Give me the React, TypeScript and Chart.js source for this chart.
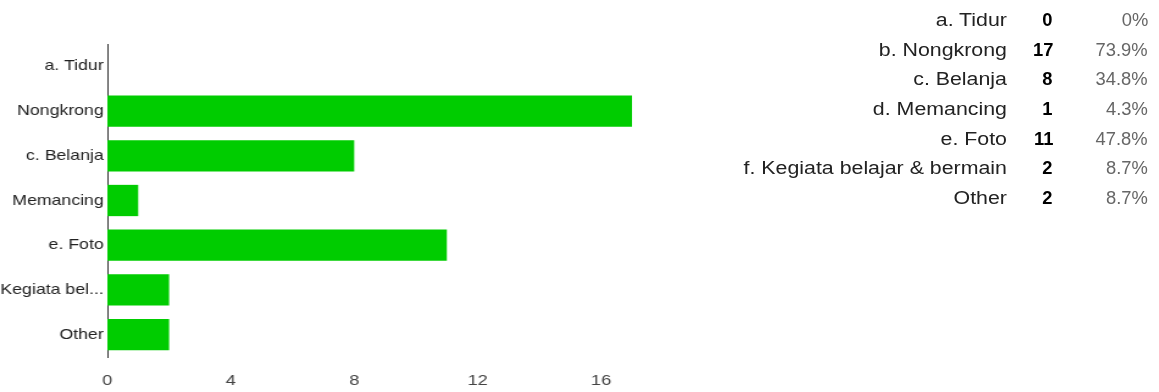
import React, { useEffect, useRef } from 'react';
import { Chart, registerables } from 'chart.js';

Chart.register(...registerables);

// ---- data ----
const categories = [
  'a. Tidur',
  'b. Nongkrong',
  'c. Belanja',
  'd. Memancing',
  'e. Foto',
  'f. Kegiata belajar & bermain',
  'Other',
];
const axisLabels = [
  'a. Tidur',
  'Nongkrong',
  'c. Belanja',
  'Memancing',
  'e. Foto',
  'f. Kegiata bel...',
  'Other',
];
const counts = [0, 17, 8, 1, 11, 2, 2];
const percents = ['0%', '73.9%', '34.8%', '4.3%', '47.8%', '8.7%', '8.7%'];
const xMin = 0;
const xMax = 17;
const xStep = 4;

// ---- layout (unscaled coordinates; whole picture is stretched horizontally) ----
const S = 1.22;
const FONT = '"Liberation Sans", Arial, sans-serif';

export default function App() {
  const ref = useRef<HTMLCanvasElement | null>(null);

  useEffect(() => {
    if (!ref.current) return;
    const chart = new Chart(ref.current, {
      type: 'bar',
      data: {
        labels: categories,
        datasets: [
          {
            data: counts,
            backgroundColor: '#00cc00',
            borderWidth: 0,
            categoryPercentage: 0.7,
            barPercentage: 1,
          },
        ],
      },
      options: {
        indexAxis: 'y',
        animation: false,
        responsive: false,
        maintainAspectRatio: false,
        layout: { padding: { top: 44, right: 42, bottom: 0, left: 0 } },
        plugins: { legend: { display: false }, tooltip: { enabled: false } },
        scales: {
          x: {
            min: xMin,
            max: xMax,
            grid: { display: false, drawTicks: false },
            border: { display: false },
            ticks: {
              stepSize: xStep,
              includeBounds: false,
              font: { family: FONT, size: 15 },
              color: '#444',
              padding: 15,
              maxRotation: 0,
            },
            afterFit: (s: any) => {
              s.height = 35;
            },
          },
          y: {
            grid: { display: false, drawTicks: false },
            border: { display: true, color: '#333', width: 1 },
            ticks: {
              font: { family: FONT, size: 14.5 },
              color: '#222',
              padding: 3,
              autoSkip: false,
              callback: (_v: any, i: number) => axisLabels[i],
            },
            afterFit: (s: any) => {
              s.width = 88;
            },
          },
        },
      },
    });
    return () => chart.destroy();
  }, []);

  const rowTop = 5.8;
  const rowH = 29.7;

  return (
    <div
      style={{
        position: 'absolute',
        left: 0,
        top: 0,
        width: 1159 / S,
        height: 392,
        transform: `scaleX(${S})`,
        transformOrigin: '0 0',
        fontFamily: FONT,
        background: '#fff',
      }}
    >
      <canvas
        ref={ref}
        width={560}
        height={392}
        style={{ position: 'absolute', left: 0, top: 0 }}
      />
      {categories.map((c, i) => (
        <div
          key={c}
          style={{
            position: 'absolute',
            left: 0,
            top: rowTop + i * rowH,
            height: rowH,
            width: 1159 / S,
            lineHeight: `${rowH}px`,
            fontSize: 17.5,
            whiteSpace: 'nowrap',
          }}
        >
          <span
            style={{
              position: 'absolute',
              left: 500,
              width: 325.4,
              textAlign: 'right',
              color: '#222',
            }}
          >
            {c}
          </span>
          <span
            style={{
              position: 'absolute',
              left: 820,
              width: 43,
              textAlign: 'right',
              color: '#000',
              fontWeight: 'bold',
            }}
          >
            <span
              style={{
                display: 'inline-block',
                transform: 'scaleX(0.86)',
                transformOrigin: '100% 50%',
              }}
            >
              {counts[i]}
            </span>
          </span>
          <span
            style={{
              position: 'absolute',
              left: 870,
              width: 71,
              textAlign: 'right',
              color: '#666',
            }}
          >
            <span
              style={{
                display: 'inline-block',
                transform: 'scaleX(0.86)',
                transformOrigin: '100% 50%',
              }}
            >
              {percents[i]}
            </span>
          </span>
        </div>
      ))}
    </div>
  );
}
